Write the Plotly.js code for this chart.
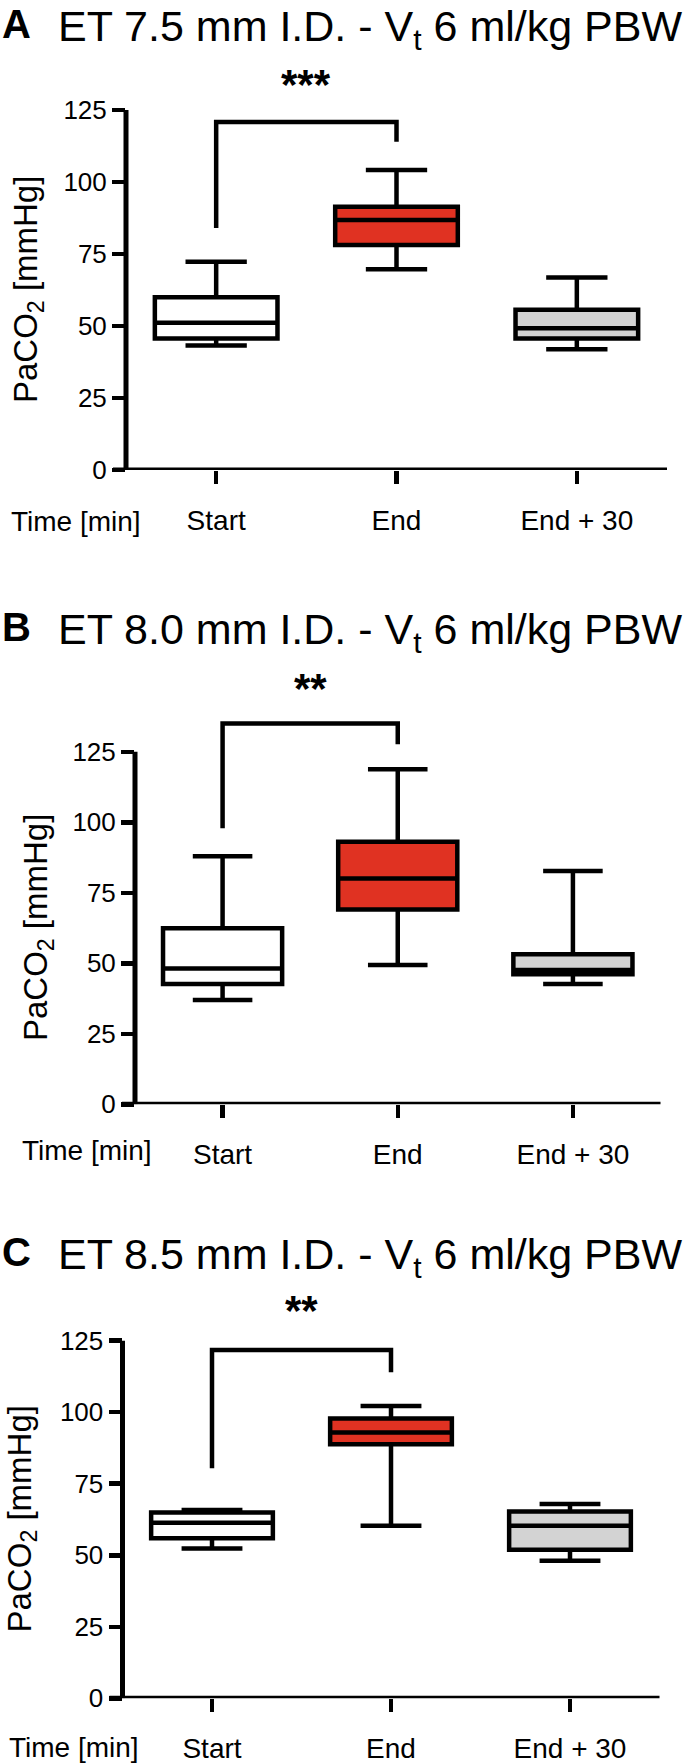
<!DOCTYPE html>
<html>
<head>
<meta charset="utf-8">
<script src="https://cdn.plot.ly/plotly-3.0.1.min.js"></script>
<style>
  body { margin: 0; background: white; }
  #myDiv { width: 685px; height: 1764px; }
</style>
</head>
<body>
<div id="myDiv"></div>
<script>
// categories and fills
var categories = ["Start", "End", "End + 30"];
var fillColors = ["#ffffff", "#e03222", "#d3d3d3"];
var yTicks = [0, 25, 50, 75, 100, 125];

// panel A - ET 7.5 mm
var aLow = [43.2, 69.7, 41.9];
var aQ1 = [45.7, 78.1, 45.7];
var aMedian = [51.1, 86.8, 49.2];
var aQ3 = [60.0, 91.4, 55.6];
var aHigh = [72.3, 104.2, 66.8];

// panel B - ET 8.0 mm
var bLow = [37.0, 49.4, 42.7];
var bQ1 = [42.7, 69.1, 46.1];
var bMedian = [48.2, 80.1, 47.6];
var bQ3 = [62.4, 93.1, 53.2];
var bHigh = [88.0, 118.8, 82.7];

// panel C - ET 8.5 mm
var cLow = [52.4, 60.3, 48.1];
var cQ1 = [55.9, 88.8, 51.9];
var cMedian = [61.4, 92.9, 60.3];
var cQ3 = [64.9, 97.8, 65.3];
var cHigh = [65.8, 102.2, 67.9];

// significance brackets (Start vs End)
var stars = ["***", "**", "**"];
var starY = [133.7, 147.6, 135.4];
var bracketTop = [120.8, 135.0, 121.7];
var bracketLeft = [84.0, 97.9, 80.4];
var bracketRight = [114.0, 127.7, 114.0];

var letters = ["A", "B", "C"];
var titles = [
  "ET 7.5 mm I.D. - V<sub>t</sub> 6 ml/kg PBW",
  "ET 8.0 mm I.D. - V<sub>t</sub> 6 ml/kg PBW",
  "ET 8.5 mm I.D. - V<sub>t</sub> 6 ml/kg PBW",
];

var stats = [
  [aLow, aQ1, aMedian, aQ3, aHigh],
  [bLow, bQ1, bMedian, bQ3, bHigh],
  [cLow, cQ1, cMedian, cQ3, cHigh],
];

var W = 685, H = 1764;
var FONT = "Liberation Sans, Arial, sans-serif";
// pixel layout of each panel: left/right edge, y of zero, px per unit
var panelPx = [
  { left: 126, right: 667, zero: 470, k: 2.88, titleTop: 0, yTitleX: 28, timeX: 9, timeY: 521 },
  { left: 135, right: 660.5, zero: 1104.3, k: 2.82, titleTop: 603, yTitleX: 38, timeX: 20, timeY: 1150 },
  { left: 122.5, right: 659.5, zero: 1698.3, k: 2.861, titleTop: 1228, yTitleX: 22, timeX: 7, timeY: 1747 },
];
var yMax = 150;

var data = [];
var layout = {
  width: W,
  height: H,
  margin: { l: 0, r: 0, t: 0, b: 0 },
  paper_bgcolor: "white",
  plot_bgcolor: "white",
  showlegend: false,
  boxmode: "overlay",
  font: { family: FONT, color: "black" },
  shapes: [],
  annotations: [],
};

for (var p = 0; p < 3; p++) {
  var sfx = p === 0 ? "" : String(p + 1);
  var xa = "x" + sfx, ya = "y" + sfx;
  var s = stats[p];
  for (var i = 0; i < categories.length; i++) {
    data.push({
      type: "box",
      x: [categories[i]],
      lowerfence: [s[0][i]],
      q1: [s[1][i]],
      median: [s[2][i]],
      q3: [s[3][i]],
      upperfence: [s[4][i]],
      fillcolor: fillColors[i],
      line: { color: "black", width: 4.5 },
      whiskerwidth: 0.5,
      width: 0.68,
      boxpoints: false,
      hoverinfo: "skip",
      xaxis: xa,
      yaxis: ya,
    });
  }

  var px = panelPx[p];
  var plotTop = px.zero - yMax * px.k;
  layout["xaxis" + sfx] = {
    domain: [px.left / W, px.right / W],
    anchor: ya,
    type: "category",
    categoryorder: "array",
    categoryarray: categories,
    range: [-0.5, 2.5],
    showline: false,
    showgrid: false,
    zeroline: false,
    ticks: "outside",
    ticklen: 13,
    tickwidth: 4.5,
    tickcolor: "black",
    ticklabelstandoff: 12,
    tickfont: { size: 28, family: FONT, color: "black" },
    fixedrange: true,
  };
  layout["yaxis" + sfx] = {
    domain: [1 - px.zero / H, 1 - plotTop / H],
    anchor: xa,
    range: [0, yMax],
    tickvals: yTicks,
    showline: false,
    showgrid: false,
    zeroline: false,
    ticks: "outside",
    ticklen: 13,
    tickwidth: 4.5,
    tickcolor: "black",
    tickfont: { size: 26, family: FONT, color: "black" },
    fixedrange: true,
  };

  // axis lines
  layout.shapes.push({
    type: "line", xref: xa + " domain", yref: ya,
    x0: 0, x1: 0, y0: 0, y1: 125,
    line: { color: "black", width: 5 },
  });
  layout.shapes.push({
    type: "line", xref: xa + " domain", yref: ya,
    x0: -13 / (px.right - px.left), x1: 1, y0: 0, y1: 0,
    line: { color: "black", width: 5 },
  });
  // bracket
  layout.shapes.push({
    type: "path", xref: xa, yref: ya,
    path: "M0," + bracketLeft[p] + " L0," + bracketTop[p] + " L1," + bracketTop[p] + " L1," + bracketRight[p],
    line: { color: "black", width: 4.5 },
  });

  layout.annotations.push({
    xref: "paper", yref: "paper", x: 0, y: 1 - px.titleTop / H,
    xanchor: "left", yanchor: "top", showarrow: false,
    text: "<b>" + letters[p] + "</b>",
    font: { size: 40, family: FONT, color: "black" },
  });
  layout.annotations.push({
    xref: "paper", yref: "paper", x: 56 / W, y: 1 - px.titleTop / H,
    xanchor: "left", yanchor: "top", showarrow: false,
    text: titles[p],
    font: { size: 43, family: FONT, color: "black" },
  });
  layout.annotations.push({
    xref: xa, yref: ya, x: 0.5, y: starY[p],
    xanchor: "center", yanchor: "middle", showarrow: false,
    text: "<b>" + stars[p] + "</b>",
    font: { size: 42, family: FONT, color: "black" },
  });
  layout.annotations.push({
    xref: "paper", yref: ya, x: px.yTitleX / W, y: 62.5,
    xanchor: "center", yanchor: "middle", showarrow: false,
    textangle: -90,
    text: "PaCO<sub>2</sub> [mmHg]",
    font: { size: 33, family: FONT, color: "black" },
  });
  layout.annotations.push({
    xref: "paper", yref: "paper", x: px.timeX / W, y: 1 - px.timeY / H,
    xanchor: "left", yanchor: "middle", showarrow: false,
    text: "Time [min]",
    font: { size: 28, family: FONT, color: "black" },
  });
}

var config = { displayModeBar: false, staticPlot: true };

Plotly.newPlot("myDiv", data, layout, config);
</script>
</body>
</html>
